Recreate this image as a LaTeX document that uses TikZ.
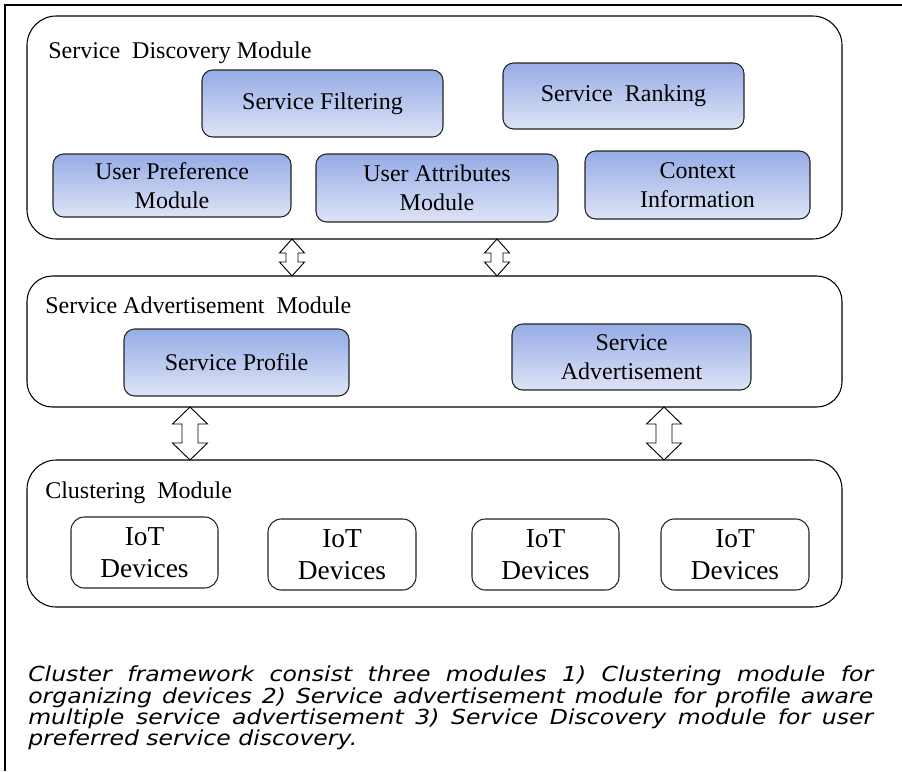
\documentclass[tikz,border=0pt]{standalone}
\usepackage{fontspec}
\setmainfont{Liberation Serif}
\newfontfamily\capfont{DejaVu Sans Oblique}[FakeStretch=1.14]
\usetikzlibrary{calc}
\definecolor{topblue}{RGB}{150,172,230}
\definecolor{botblue}{RGB}{222,228,246}
\definecolor{edgegray}{RGB}{35,35,35}
\newcommand\mydblarrow[5]{%
  \draw[blk] (#1) -- ($(#1)+(#3,#5)$) -- ($(#1)+(#4,#5)$) -- ($(#2)+(#4,-#5)$) -- ($(#2)+(#3,-#5)$) -- (#2)
    -- ($(#2)+(-#3,-#5)$) -- ($(#2)+(-#4,-#5)$) -- ($(#1)+(-#4,#5)$) -- ($(#1)+(-#3,#5)$) -- cycle;}
\begin{document}
\begin{tikzpicture}[x=0.75pt,y=-0.75pt,
  bigbox/.style={draw=black, line width=0.8pt, anchor=north west, outer sep=0pt, inner sep=0pt},
  ibox/.style={draw=edgegray, line width=0.8pt, rounded corners=8pt, top color=topblue, bottom color=botblue,
    anchor=north west, outer sep=0pt, inner sep=2pt, align=center, font=\fontsize{18}{21.75}\selectfont},
  iotbox/.style={draw=edgegray, line width=0.8pt, rounded corners=10pt, fill=white,
    anchor=north west, outer sep=0pt, inner sep=2pt, align=center, font=\fontsize{20.5}{24}\selectfont},
  title/.style={anchor=base west, inner sep=0pt, font=\fontsize{18}{21.6}\selectfont},
  blk/.style={draw=black, line width=0.7pt, fill=white, line join=miter}
]
\useasboundingbox (0,0) rectangle (902,771);
% outer frame (top and left sides only)
\draw[line width=1.2pt] (902,5) -- (5,5) -- (5,771);

% module containers
\node[bigbox, rounded corners=22pt, minimum width=815*0.75pt, minimum height=223*0.75pt] (sdm) at (27,16) {};
\node[bigbox, rounded corners=19pt, minimum width=815*0.75pt, minimum height=131*0.75pt] (sam) at (27,276) {};
\node[bigbox, rounded corners=22pt, minimum width=815*0.75pt, minimum height=147*0.75pt] (clm) at (27,460) {};

% titles
\node[title] (sdmt) at (48,58) {Service\ \ Discovery Module};
\node[title] (samt) at (45,313) {Service Advertisement\ \ Module};
\node[title] (clmt) at (45,498) {Clustering\ \ Module};

% service discovery components
\node[ibox, minimum width=241*0.75pt, minimum height=67*0.75pt] (sf) at (202,70) {Service Filtering};
\node[ibox, minimum width=241*0.75pt, minimum height=66*0.75pt] (sr) at (503,63) {Service\ \ Ranking};
\node[ibox, minimum width=238*0.75pt, minimum height=63*0.75pt] (up) at (53,154) {User Preference\\Module};
\node[ibox, minimum width=242*0.75pt, minimum height=68*0.75pt] (ua) at (316,154) {User Attributes\\Module};
\node[ibox, minimum width=225*0.75pt, minimum height=68*0.75pt] (ci) at (585,151) {Context\\Information};

% service advertisement components
\node[ibox, minimum width=225*0.75pt, minimum height=67*0.75pt] (sp) at (124,329) {Service Profile};
\node[ibox, minimum width=239*0.75pt, minimum height=66*0.75pt] (sa) at (512,324) {Service\\Advertisement};

% IoT devices
\node[iotbox, minimum width=147*0.75pt, minimum height=71*0.75pt] (iot1) at (71,517) {IoT\\Devices};
\node[iotbox, minimum width=148*0.75pt, minimum height=71*0.75pt] (iot2) at (268,519) {IoT\\Devices};
\node[iotbox, minimum width=147*0.75pt, minimum height=71*0.75pt] (iot3) at (472,519) {IoT\\Devices};
\node[iotbox, minimum width=148*0.75pt, minimum height=71*0.75pt] (iot4) at (661,519) {IoT\\Devices};

% block arrows
\coordinate (xa) at (292,0);
\coordinate (xb) at (497,0);
\coordinate (xc) at (190,0);
\coordinate (xd) at (664,0);
\mydblarrow{sdm.south -| xa}{sam.north -| xa}{12.5}{6}{14}
\mydblarrow{sdm.south -| xb}{sam.north -| xb}{12.5}{6}{14}
\mydblarrow{sam.south -| xc}{clm.north -| xc}{17.5}{8}{17}
\mydblarrow{sam.south -| xd}{clm.north -| xd}{17.5}{8}{17}

% caption
\node[anchor=north west, text width=845*0.75pt, align=justify, inner sep=0pt,
  font=\capfont\fontsize{15.5}{15}\selectfont] (cap) at (28,666)
  {\hyphenpenalty=10000 Cluster framework consist three modules 1) Clustering module for\linebreak
   organizing devices 2) Service advertisement module for profile aware\linebreak
   multiple service advertisement 3) Service Discovery module for user\linebreak
   preferred service discovery.};
\end{tikzpicture}
\end{document}
